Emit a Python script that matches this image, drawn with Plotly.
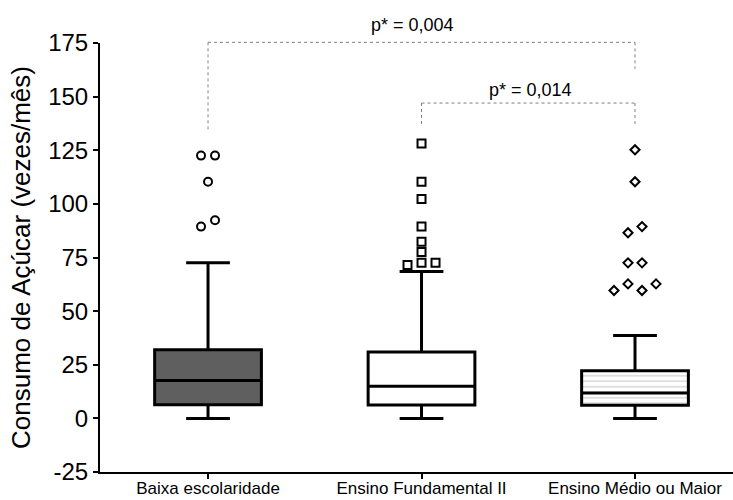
import plotly.graph_objects as go

# ---------------- data ----------------
categories = ["Baixa escolaridade", "Ensino Fundamental II", "Ensino Médio ou Maior"]
q1 = [6.4, 6.2, 6.1]
medians = [17.6, 15.0, 11.8]
q3 = [32.0, 31.0, 22.2]
lower_fence = [0, 0, 0]
upper_fence = [72.5, 68.5, 38.6]

baixa_outliers = [122.5, 122.5, 110.3, 89.4, 92.4]
baixa_slots = [-1, 1, 0, -1, 1]
fund_outliers = [128.1, 110.3, 102.3, 89.4, 82.4, 77.6, 72.5, 71.5, 72.5]
fund_slots = [0, 0, 0, 0, 0, 0, 0, -2, 2]
medio_outliers = [125.2, 110.3, 89.4, 86.5, 72.5, 72.5, 62.7, 59.6, 59.6, 62.7]
medio_slots = [0, 0, 1, -1, -1, 1, -1, -3, 1, 3]

comparisons = [(0, 2), (1, 2)]
bracket_top = [175.3, 147.0]
bracket_left_end = [134.0, 136.0]
bracket_right_end = [163.0, 136.0]
p_labels = ["p* = 0,004", "p* = 0,014"]
p_label_x = [0.96, 1.51]
p_label_y = [183.6, 153.3]

y_ticks = [-25, 0, 25, 50, 75, 100, 125, 150, 175]
y_tick_labels = ["-25", "0", "25", "50", "75", "100", "125", "150", "175"]

# ---------------- style ----------------
FONT = "Liberation Sans, Arial, sans-serif"
Y_MIN, Y_MAX = -25, 175
SLOT = 0.0328
BOX_W = 0.5
fills = ["#5f5f5f", "#ffffff", "rgba(0,0,0,0)"]

fig = go.Figure()

# hatched background for the third box
fig.add_trace(go.Bar(
    x=[2], base=[q1[2]], y=[q3[2] - q1[2]], width=[BOX_W],
    marker=dict(color="white", line=dict(width=0),
                pattern=dict(shape="-", fgcolor="#9a9a9a", bgcolor="white",
                             size=5.5, solidity=0.22)),
    showlegend=False, hoverinfo="skip"))

for i in range(3):
    fig.add_trace(go.Box(
        x=[i], q1=[q1[i]], median=[medians[i]], q3=[q3[i]],
        lowerfence=[lower_fence[i]], upperfence=[upper_fence[i]],
        width=BOX_W, whiskerwidth=0.41, boxpoints=False,
        fillcolor=fills[i], line=dict(color="black", width=3),
        showlegend=False))

outlier_sets = [
    (baixa_outliers, baixa_slots, "circle-open", 8),
    (fund_outliers, fund_slots, "square-open", 8),
    (medio_outliers, medio_slots, "diamond-open", 7),
]
for i, (vals, slots, sym, size) in enumerate(outlier_sets):
    fig.add_trace(go.Scatter(
        x=[i + s * SLOT for s in slots], y=vals, mode="markers",
        marker=dict(symbol=sym, size=size, color="black", line=dict(width=2, color="black")),
        showlegend=False, cliponaxis=False))


def dom(v):
    return (v - Y_MIN) / (Y_MAX - Y_MIN)


for k, (a, b) in enumerate(comparisons):
    line = dict(color="#808080", width=1, dash="dot")
    fig.add_shape(type="line", xref="x", yref="y domain", x0=a, x1=b,
                  y0=dom(bracket_top[k]), y1=dom(bracket_top[k]), line=line)
    fig.add_shape(type="line", xref="x", yref="y domain", x0=a, x1=a,
                  y0=dom(bracket_top[k]), y1=dom(bracket_left_end[k]), line=line)
    fig.add_shape(type="line", xref="x", yref="y domain", x0=b, x1=b,
                  y0=dom(bracket_top[k]), y1=dom(bracket_right_end[k]), line=line)
    fig.add_annotation(x=p_label_x[k], xref="x", y=dom(p_label_y[k]), yref="y domain",
                       text=p_labels[k], showarrow=False, xanchor="center", yanchor="middle",
                       font=dict(family=FONT, size=18, color="black"))

fig.update_layout(
    width=733, height=500,
    margin=dict(l=100, r=0, t=43, b=28),
    plot_bgcolor="white", paper_bgcolor="white",
    boxmode="overlay", barmode="overlay",
    font=dict(family=FONT, color="black"),
    xaxis=dict(range=[-0.506, 2.459], tickvals=[0, 1, 2], ticktext=categories,
               showline=True, linecolor="black", linewidth=2,
               ticks="outside", ticklen=5, tickwidth=2, tickcolor="black",
               showgrid=False, zeroline=False, automargin=False,
               ticklabelstandoff=-5,
               tickfont=dict(family=FONT, size=17, color="black")),
    yaxis=dict(range=[Y_MIN, Y_MAX], tickvals=y_ticks, ticktext=y_tick_labels,
               showline=True, linecolor="black", linewidth=2,
               ticks="outside", ticklen=5, tickwidth=2, tickcolor="black",
               showgrid=False, zeroline=False, automargin=False,
               tickfont=dict(family=FONT, size=24, color="black"),
               title=dict(text="Consumo de Açúcar (vezes/mês)",
                          font=dict(family=FONT, size=26, color="black"), standoff=10)),
)

fig.write_html("out.html")
